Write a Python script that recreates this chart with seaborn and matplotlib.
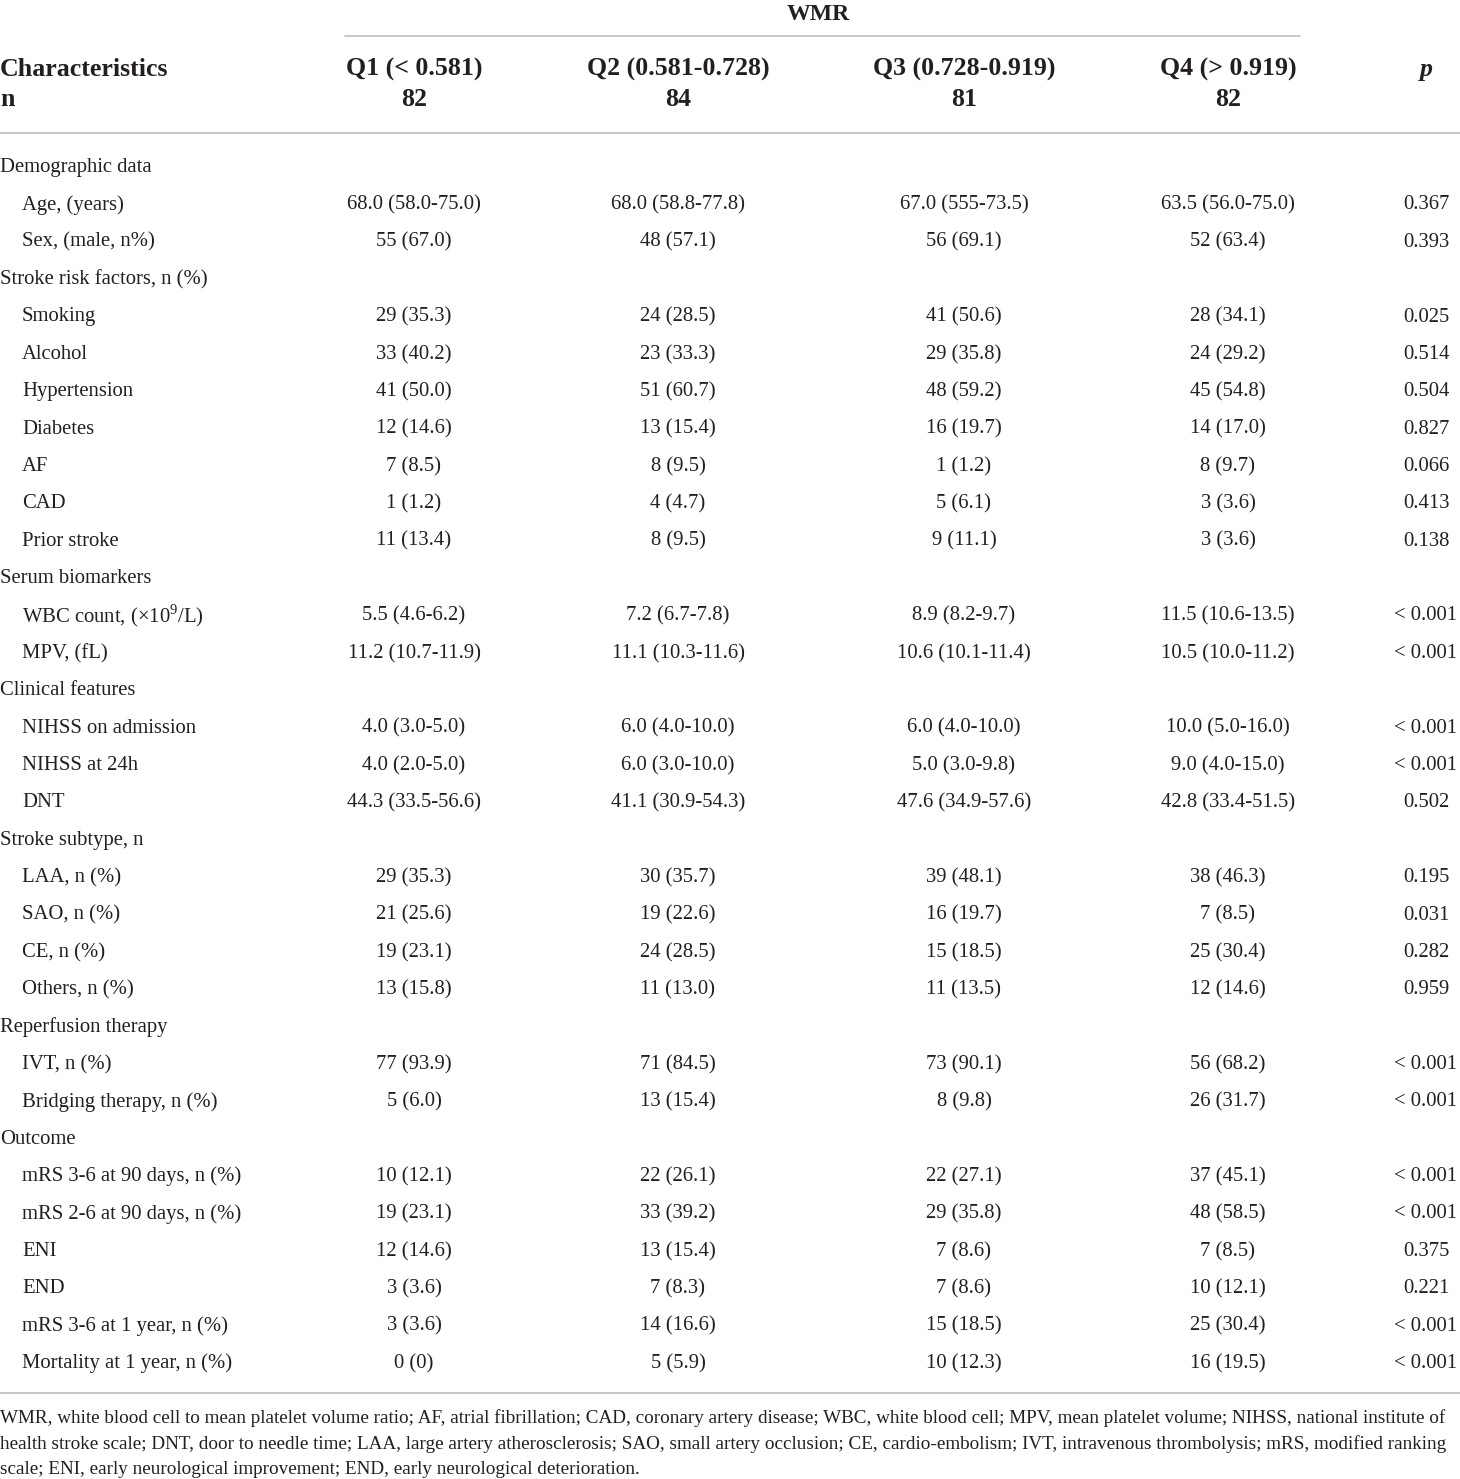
import matplotlib
matplotlib.use("Agg")
import matplotlib.pyplot as plt
import seaborn as sns
import pandas as pd

# ---------------- data ----------------
group_title = "WMR"
col_headers = ["Q1 (< 0.581)", "Q2 (0.581-0.728)", "Q3 (0.728-0.919)", "Q4 (> 0.919)"]
col_n = ["82", "84", "81", "82"]

characteristics = [
    "Demographic data", "Age, (years)", "Sex, (male, n%)",
    "Stroke risk factors, n (%)", "Smoking", "Alcohol", "Hypertension", "Diabetes", "AF", "CAD", "Prior stroke",
    "Serum biomarkers", "WBC count, (×10$^{9}$/L)", "MPV, (fL)",
    "Clinical features", "NIHSS on admission", "NIHSS at 24h", "DNT",
    "Stroke subtype, n", "LAA, n (%)", "SAO, n (%)", "CE, n (%)", "Others, n (%)",
    "Reperfusion therapy", "IVT, n (%)", "Bridging therapy, n (%)",
    "Outcome", "mRS 3-6 at 90 days, n (%)", "mRS 2-6 at 90 days, n (%)", "ENI", "END",
    "mRS 3-6 at 1 year, n (%)", "Mortality at 1 year, n (%)",
]
is_section = [
    True, False, False,
    True, False, False, False, False, False, False, False,
    True, False, False,
    True, False, False, False,
    True, False, False, False, False,
    True, False, False,
    True, False, False, False, False, False, False,
]
q1 = ["", "68.0 (58.0-75.0)", "55 (67.0)",
      "", "29 (35.3)", "33 (40.2)", "41 (50.0)", "12 (14.6)", "7 (8.5)", "1 (1.2)", "11 (13.4)",
      "", "5.5 (4.6-6.2)", "11.2 (10.7-11.9)",
      "", "4.0 (3.0-5.0)", "4.0 (2.0-5.0)", "44.3 (33.5-56.6)",
      "", "29 (35.3)", "21 (25.6)", "19 (23.1)", "13 (15.8)",
      "", "77 (93.9)", "5 (6.0)",
      "", "10 (12.1)", "19 (23.1)", "12 (14.6)", "3 (3.6)", "3 (3.6)", "0 (0)"]
q2 = ["", "68.0 (58.8-77.8)", "48 (57.1)",
      "", "24 (28.5)", "23 (33.3)", "51 (60.7)", "13 (15.4)", "8 (9.5)", "4 (4.7)", "8 (9.5)",
      "", "7.2 (6.7-7.8)", "11.1 (10.3-11.6)",
      "", "6.0 (4.0-10.0)", "6.0 (3.0-10.0)", "41.1 (30.9-54.3)",
      "", "30 (35.7)", "19 (22.6)", "24 (28.5)", "11 (13.0)",
      "", "71 (84.5)", "13 (15.4)",
      "", "22 (26.1)", "33 (39.2)", "13 (15.4)", "7 (8.3)", "14 (16.6)", "5 (5.9)"]
q3 = ["", "67.0 (555-73.5)", "56 (69.1)",
      "", "41 (50.6)", "29 (35.8)", "48 (59.2)", "16 (19.7)", "1 (1.2)", "5 (6.1)", "9 (11.1)",
      "", "8.9 (8.2-9.7)", "10.6 (10.1-11.4)",
      "", "6.0 (4.0-10.0)", "5.0 (3.0-9.8)", "47.6 (34.9-57.6)",
      "", "39 (48.1)", "16 (19.7)", "15 (18.5)", "11 (13.5)",
      "", "73 (90.1)", "8 (9.8)",
      "", "22 (27.1)", "29 (35.8)", "7 (8.6)", "7 (8.6)", "15 (18.5)", "10 (12.3)"]
q4 = ["", "63.5 (56.0-75.0)", "52 (63.4)",
      "", "28 (34.1)", "24 (29.2)", "45 (54.8)", "14 (17.0)", "8 (9.7)", "3 (3.6)", "3 (3.6)",
      "", "11.5 (10.6-13.5)", "10.5 (10.0-11.2)",
      "", "10.0 (5.0-16.0)", "9.0 (4.0-15.0)", "42.8 (33.4-51.5)",
      "", "38 (46.3)", "7 (8.5)", "25 (30.4)", "12 (14.6)",
      "", "56 (68.2)", "26 (31.7)",
      "", "37 (45.1)", "48 (58.5)", "7 (8.5)", "10 (12.1)", "25 (30.4)", "16 (19.5)"]
p_values = ["", "0.367", "0.393",
            "", "0.025", "0.514", "0.504", "0.827", "0.066", "0.413", "0.138",
            "", "< 0.001", "< 0.001",
            "", "< 0.001", "< 0.001", "0.502",
            "", "0.195", "0.031", "0.282", "0.959",
            "", "< 0.001", "< 0.001",
            "", "< 0.001", "< 0.001", "0.375", "0.221", "< 0.001", "< 0.001"]

footnote_lines = [
    "WMR, white blood cell to mean platelet volume ratio; AF, atrial fibrillation; CAD, coronary artery disease; WBC, white blood cell; MPV, mean platelet volume; NIHSS, national institute of",
    "health stroke scale; DNT, door to needle time; LAA, large artery atherosclerosis; SAO, small artery occlusion; CE, cardio-embolism; IVT, intravenous thrombolysis; mRS, modified ranking",
    "scale; ENI, early neurological improvement; END, early neurological deterioration.",
]

df = pd.DataFrame({"label": characteristics, "section": is_section,
                   "Q1": q1, "Q2": q2, "Q3": q3, "Q4": q4, "p": p_values})

# ---------------- layout ----------------
sns.set_theme(style="white")
plt.rcParams["font.family"] = ["Liberation Serif", "DejaVu Serif"]
plt.rcParams["mathtext.fontset"] = "custom"
plt.rcParams["mathtext.rm"] = "Liberation Serif"

W, H = 1460, 1479
fig = plt.figure(figsize=(W / 100, H / 100), dpi=100)
ax = fig.add_axes([0, 0, 1, 1])
ax.set_xlim(0, W)
ax.set_ylim(H, 0)
ax.axis("off")

line_color = "#c4c4c4"
text_color = "#231f20"
body_fs = 14.9
head_fs = 18.6
foot_fs = 13.0

col_x = [414, 678, 964, 1228]
p_x = 1426

# Group header
ax.text(818, 14, group_title, ha="center", va="center", fontsize=head_fs - 1.5,
        fontweight="bold", color=text_color)
ax.plot([345, 1300], [36, 36], color=line_color, lw=1.3)

ax.text(0, 69.5, "Characteristics", ha="left", va="center", fontsize=head_fs,
        fontweight="bold", color=text_color)
ax.text(0, 99.5, "n", ha="left", va="center", fontsize=head_fs,
        fontweight="bold", color=text_color)
for x, h, n in zip(col_x, col_headers, col_n):
    ax.text(x, 69.5, h, ha="center", va="center", fontsize=head_fs, fontweight="bold", color=text_color)
    ax.text(x, 99.5, n, ha="center", va="center", fontsize=head_fs, fontweight="bold", color=text_color)
ax.text(p_x, 69.5, "p", ha="center", va="center", fontsize=head_fs, fontweight="bold",
        fontstyle="italic", color=text_color)
ax.plot([0, W], [133, 133], color=line_color, lw=1.3)

# Body rows
y0, dy = 167.5, 37.375
for i, row in df.iterrows():
    y = y0 + i * dy
    if row["section"]:
        ax.text(0, y, row["label"], ha="left", va="center", fontsize=body_fs, color=text_color)
    else:
        ax.text(22, y, row["label"], ha="left", va="center", fontsize=body_fs, color=text_color)
        for x, c in zip(col_x, ["Q1", "Q2", "Q3", "Q4"]):
            ax.text(x, y, row[c], ha="center", va="center", fontsize=body_fs, color=text_color)
        ax.text(p_x, y, row["p"], ha="center", va="center", fontsize=body_fs, color=text_color)

ax.plot([0, W], [1393, 1393], color=line_color, lw=1.3)

# Footnote: full lines scaled to span the table width
renderer = fig.canvas.get_renderer()
foot_baselines = [1423, 1449, 1474]
target = W - 6
sizes = []
for k, line in enumerate(footnote_lines):
    t = ax.text(0, foot_baselines[k], line, ha="left", va="baseline",
                fontsize=foot_fs, color=text_color)
    if k < len(footnote_lines) - 1:
        fs = foot_fs
        for _ in range(8):
            wpx = t.get_window_extent(renderer=renderer).width
            fs = fs * target / wpx
            t.set_fontsize(fs)
        while t.get_window_extent(renderer=renderer).width > target:
            fs -= 0.05
            t.set_fontsize(fs)
        sizes.append(fs)
    else:
        t.set_fontsize(min(sizes))

fig.savefig("out.png", dpi=100, facecolor="white")
